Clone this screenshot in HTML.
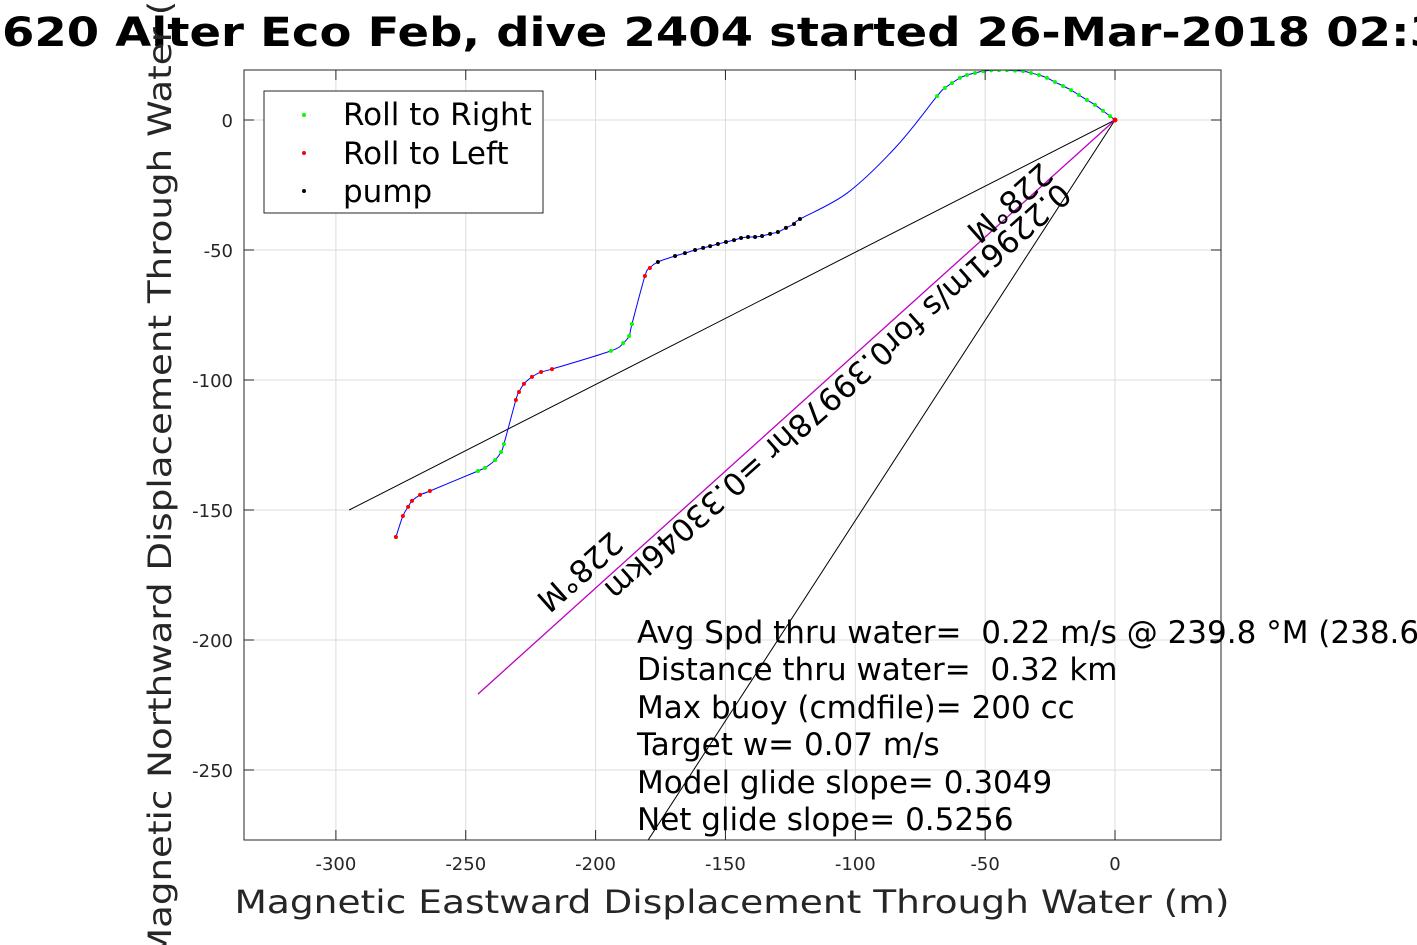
<!DOCTYPE html>
<html><head><meta charset="utf-8"><style>
html,body{margin:0;padding:0;background:#fff;overflow:hidden}
svg{display:block;font-family:"DejaVu Sans","Liberation Sans",sans-serif}
</style></head><body>
<svg id="chart" width="1417" height="945" viewBox="0 0 1417 945" xmlns="http://www.w3.org/2000/svg">
<rect x="0" y="0" width="1417" height="945" fill="#fff"/>
<g id="grid"></g>
<g id="plot" clip-path="url(#clip)"></g>
<defs><clipPath id="clip"><rect x="244" y="70" width="977" height="770"/></clipPath></defs>
<rect x="244" y="70" width="977" height="770" fill="none" stroke="#262626" stroke-width="1"/>
<g id="ticks"></g>
<text x="2" y="46" font-size="40" font-weight="bold" textLength="1440" lengthAdjust="spacingAndGlyphs">620 Alter Eco Feb, dive 2404 started 26-Mar-2018 02:3</text>
<text x="732" y="913" font-size="32" fill="#262626" text-anchor="middle" textLength="995" lengthAdjust="spacingAndGlyphs">Magnetic Eastward Displacement Through Water (m)</text>
<text transform="translate(171,455) rotate(-90)" font-size="32" fill="#262626" text-anchor="middle" textLength="1010" lengthAdjust="spacingAndGlyphs">Magnetic Northward Displacement Through Water (m)</text>
<g>
<rect x="264" y="91" width="279" height="122" fill="#fff" stroke="#262626" stroke-width="1"/>
<g><circle cx="304" cy="115" r="2" fill="#00ff00"/><text x="343" y="125" font-size="31">Roll to Right</text></g>
<g><circle cx="304" cy="153" r="2" fill="#ff0000"/><text x="343" y="164" font-size="31">Roll to Left</text></g>
<g><circle cx="304" cy="191" r="2" fill="#000"/><text x="343" y="202" font-size="31">pump</text></g>
</g>
<g font-size="31" fill="#000" style="white-space:pre">
<text x="637" y="643" xml:space="preserve">Avg Spd thru water=  0.22 m/s @ 239.8 °M (238.6</text>
<text x="637" y="680" xml:space="preserve">Distance thru water=  0.32 km</text>
<text x="637" y="718">Max buoy (cmdfile)= 200 cc</text>
<text x="637" y="755">Target w= 0.07 m/s</text>
<text x="637" y="793">Model glide slope= 0.3049</text>
<text x="637" y="830">Net glide slope= 0.5256</text>
</g>
</svg>
<script>
const xTicks=[-300,-250,-200,-150,-100,-50,0];
const yTicks=[0,-50,-100,-150,-200,-250];
const rightX=[-276.9,-245.3,-242.6,-238.7,-236.4,-235.3,-194.1,-189.4,-187.1,-186.0];
const rightY=[-160.4,-135.0,-133.8,-130.8,-127.7,-124.6,-88.8,-85.8,-83.1,-78.5];
const leftX=[-276.9,-274.2,-272.2,-270.7,-267.6,-263.8,-230.7,-229.5,-227.6,-224.5,-221.0,-216.8,-181.0,-179.1];
const leftY=[-160.4,-152.3,-148.8,-146.5,-144.2,-142.7,-107.7,-104.6,-101.5,-98.8,-96.9,-95.8,-60.0,-56.9];
const pumpX=[-176.0,-169.4,-165.6,-161.7,-158.6,-155.9,-152.9,-149.8,-146.7,-144.0,-141.3,-138.6,-135.9,-132.8,-129.8,-126.7,-123.6,-121.3];
const pumpY=[-54.6,-52.3,-51.2,-50.0,-49.2,-48.5,-47.7,-46.9,-46.2,-45.4,-45.0,-45.0,-44.6,-43.8,-43.1,-41.5,-40.0,-38.1];
const arcX=[-68.5,-65.5,-62.8,-59.7,-57.0,-53.9,-50.8,-47.7,-44.7,-41.6,-38.5,-35.4,-32.3,-29.3,-26.2,-23.1,-20.0,-16.9,-13.9,-10.8,-7.7,-4.6,-1.9];
const arcY=[9.2,12.3,14.2,16.2,17.3,18.1,18.8,19.1,19.2,19.2,19.0,18.8,18.1,17.3,16.2,14.6,13.1,11.5,9.6,7.7,5.8,3.5,1.5];
const trackX=[-276.9,-274.2,-272.2,-270.7,-267.6,-263.8,-245.3,-242.6,-238.7,-236.4,-235.3,-230.7,-229.5,-227.6,-224.5,-221.0,-216.8,-194.1,-189.4,-187.1,-186.0,-181.0,-179.1,-176.0,-169.4,-165.6,-161.7,-158.6,-155.9,-152.9,-149.8,-146.7,-144.0,-141.3,-138.6,-135.9,-132.8,-129.8,-126.7,-123.6,-121.3,-103.0,-84.0,-68.5,-65.5,-62.8,-59.7,-57.0,-53.9,-50.8,-47.7,-44.7,-41.6,-38.5,-35.4,-32.3,-29.3,-26.2,-23.1,-20.0,-16.9,-13.9,-10.8,-7.7,-4.6,-1.9,0];
const trackY=[-160.4,-152.3,-148.8,-146.5,-144.2,-142.7,-135.0,-133.8,-130.8,-127.7,-124.6,-107.7,-104.6,-101.5,-98.8,-96.9,-95.8,-88.8,-85.8,-83.1,-78.5,-60.0,-56.9,-54.6,-52.3,-51.2,-50.0,-49.2,-48.5,-47.7,-46.9,-46.2,-45.4,-45.0,-45.0,-44.6,-43.8,-43.1,-41.5,-40.0,-38.1,-28.0,-10.0,9.2,12.3,14.2,16.2,17.3,18.1,18.8,19.1,19.2,19.2,19.0,18.8,18.1,17.3,16.2,14.6,13.1,11.5,9.6,7.7,5.8,3.5,1.5,0];
const vecEnds=[[-294.9,-150.0],[-179.8,-277.0]];
const avgEnd=[-245.3,-220.8];

const NS='http://www.w3.org/2000/svg';
const X=v=>1115+v*2.597, Y=v=>120-v*2.6;
function mk(tag,attrs,parent){const e=document.createElementNS(NS,tag);for(const k in attrs)e.setAttribute(k,attrs[k]);parent.appendChild(e);return e;}
const grid=document.getElementById('grid'),plot=document.getElementById('plot'),ticks=document.getElementById('ticks');
xTicks.forEach(t=>{
  const l=mk('line',{x1:X(t),x2:X(t),y1:70,y2:840,stroke:'#dcdcdc','stroke-width':1},grid);
  
  
  mk('line',{x1:X(t),x2:X(t),y1:840,y2:830,stroke:'#262626'},ticks);
  mk('line',{x1:X(t),x2:X(t),y1:70,y2:80,stroke:'#262626'},ticks);
  const tx=mk('text',{x:X(t),y:870,'font-size':18,'text-anchor':'middle',fill:'#262626'},ticks);
  
  
  tx.textContent=t;
});
yTicks.forEach(t=>{
  const l=mk('line',{x1:244,x2:1221,y1:Y(t),y2:Y(t),stroke:'#dcdcdc','stroke-width':1},grid);
  
  
  mk('line',{x1:244,x2:254,y1:Y(t),y2:Y(t),stroke:'#262626'},ticks);
  mk('line',{x1:1221,x2:1211,y1:Y(t),y2:Y(t),stroke:'#262626'},ticks);
  const tx=mk('text',{x:233,y:Y(t)+7,'font-size':18,'text-anchor':'end',fill:'#262626'},ticks);
  
  
  tx.textContent=t;
});
vecEnds.forEach(p=>{
  const l=mk('line',{x1:X(0),y1:Y(0),x2:X(p[0]),y2:Y(p[1]),stroke:'#000','stroke-width':1},plot);
  
  
});
const av=mk('line',{x1:X(0),y1:Y(0),x2:X(avgEnd[0]),y2:Y(avgEnd[1]),stroke:'#c000c0','stroke-width':1.3},plot);


const P=trackX.map((x,i)=>[X(x),Y(trackY[i])]);
let d='M'+P[0][0]+','+P[0][1];
for(let i=0;i<P.length-1;i++){
  const p0=P[Math.max(i-1,0)],p1=P[i],p2=P[i+1],p3=P[Math.min(i+2,P.length-1)];
  d+=` C${p1[0]+(p2[0]-p0[0])/6},${p1[1]+(p2[1]-p0[1])/6} ${p2[0]-(p3[0]-p1[0])/6},${p2[1]-(p3[1]-p1[1])/6} ${p2[0]},${p2[1]}`;
}
const tr=mk('path',{d:d,fill:'none',stroke:'#0000ff','stroke-width':1},plot);


function dots(xs,ys,col,name){xs.forEach((x,i)=>{const c=mk('circle',{cx:X(x),cy:Y(ys[i]),r:2,fill:col},plot);
  
  });}
dots(arcX,arcY,'#00ff00','roll-right-point');
dots(rightX,rightY,'#00ff00','roll-right-point');
dots(leftX,leftY,'#ff0000','roll-left-point');
dots(pumpX,pumpY,'#000','pump-point');
const o=mk('circle',{cx:X(0),cy:Y(0),r:2.5,fill:'#ff0000'},plot);


const ang=138.4;
[[838,392,'0.22961m/s for0.39978hr =0.33046km','speed-annotation'],[1010,203,'228°M','heading-label-top'],[580,572,'228°M','heading-label-bottom']].forEach(a=>{
  const t=mk('text',{transform:`translate(${a[0]},${a[1]}) rotate(${ang})`,'font-size':31,'text-anchor':'middle',fill:'#000',y:11},document.getElementById('chart'));
  
  
  t.textContent=a[2];
});
</script>
</body></html>
